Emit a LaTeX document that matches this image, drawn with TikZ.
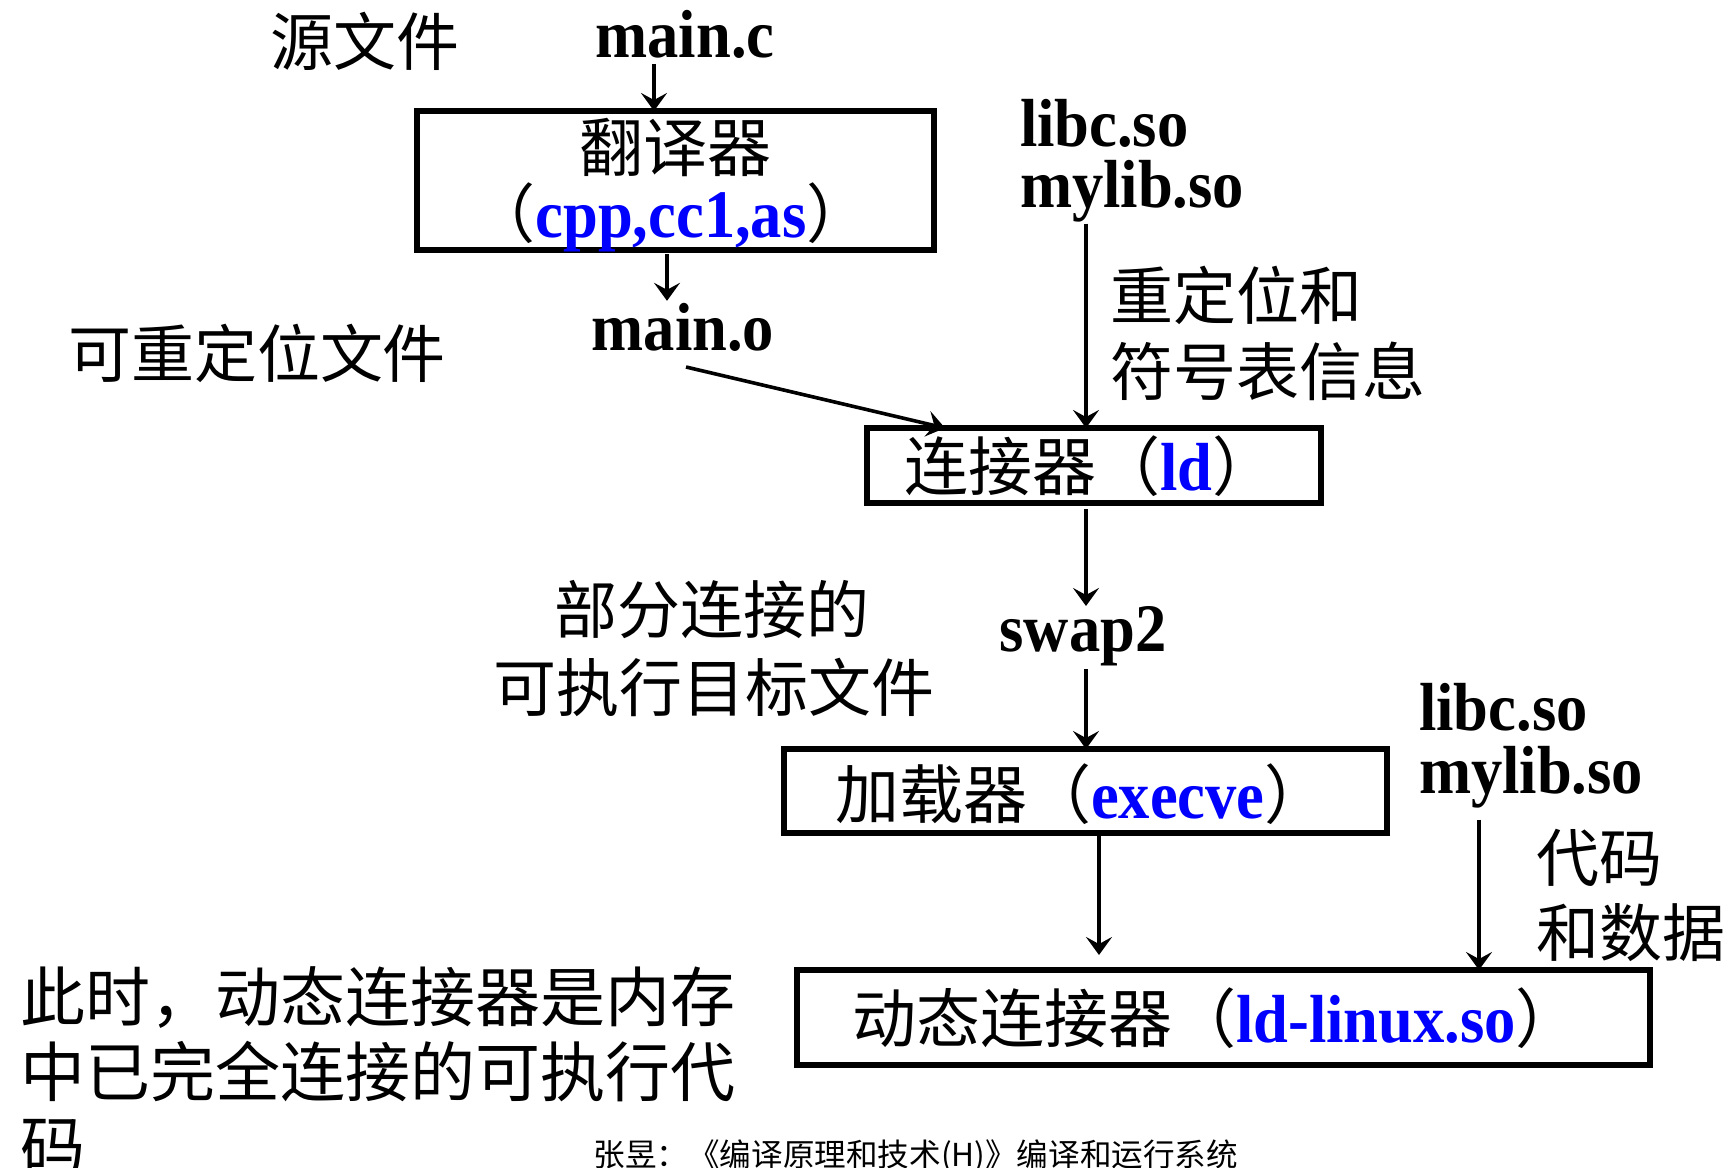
\documentclass[tikz,border=0pt]{standalone}
\usepackage{fontspec}
\setmainfont{Liberation Serif}[FakeStretch=0.92]
\newfontfamily\cjk{Noto Sans CJK SC}
\usetikzlibrary{arrows.meta}
\definecolor{lkblue}{RGB}{0,0,255}
\newcommand\zh[1]{{\cjk\mdseries\fontsize{32}{36}\selectfont #1}}
\newcommand\bl[1]{{\color{lkblue}#1}}
\begin{document}
\begin{tikzpicture}[x=0.5pt,y=-0.5pt,
  lat/.style={font=\fontsize{34}{40}\selectfont\bfseries, inner sep=0pt, outer sep=0pt},
  cj/.style={font=\cjk\fontsize{31.5}{36}\selectfont, inner sep=0pt, outer sep=0pt},
  box/.style={draw, line width=2.7pt, inner sep=0pt, outer sep=0pt},
  arr/.style={-{Stealth[length=9pt,width=13pt,inset=3.5pt]}, line width=1.8pt}]
\useasboundingbox (0,0) rectangle (1729,1167);
\clip (0,0) rectangle (1729,1167);
\fill[white] (0,0) rectangle (1729,1167);

% boxes
\node[box, minimum width=258.5pt, minimum height=69.5pt] (trans) at (675.5,180.5) {};
\node[box, minimum width=227pt, minimum height=37.5pt] (ldbox) at (1094,465.5) {};
\node[box, minimum width=301.5pt, minimum height=42pt] (loader) at (1085.5,791) {};
\node[box, minimum width=426.5pt, minimum height=47.5pt] (dyn) at (1223.5,1017.5) {};

% box texts
\node[cj, font=\cjk\fontsize{32}{36}\selectfont] (transA) at (675,147) {翻译器};
\node[lat, anchor=base] (transB) at (671,237) {\zh{（}\bl{cpp,cc1,as}\zh{）}};
\node[lat, anchor=base west] (ldT) at (904,490) {\zh{连接器（}\bl{ld}\zh{）}};
\node[lat, anchor=base west] (loaderT) at (835,818) {\zh{加载器（}\bl{execve}\zh{）}};
\node[lat, anchor=base west] (dynT) at (852,1042) {\zh{动态连接器（}\bl{ld-linux.so}\zh{）}};

% labels
\node[cj] (src) at (365,41) {源文件};
\node[lat, anchor=base] (mainc) at (685,57) {main.c};
\node[lat, anchor=base] (mo) at (683,350) {main.o};
\node[cj] (reloc) at (257,353) {可重定位文件};
\node[lat, anchor=base west] (libc1) at (1020,146) {libc.so};
\node[lat, anchor=base west] (mylib1) at (1020,207) {mylib.so};
\node[cj, anchor=west] (rel1) at (1110,295) {重定位和};
\node[cj, anchor=west] (rel2) at (1110,371) {符号表信息};
\node[lat, anchor=base] (swap) at (1083,651) {swap2};
\node[cj] (part1) at (712,610) {部分连接的};
\node[cj] (part2) at (714,687) {可执行目标文件};
\node[lat, anchor=base west] (libc2) at (1419,730) {libc.so};
\node[lat, anchor=base west] (mylib2) at (1419,793) {mylib.so};
\node[cj, anchor=west] (code1) at (1536,858) {代码};
\node[cj, anchor=west] (code2) at (1536,933) {和数据};
\node[cj, anchor=base west, font=\cjk\fontsize{32.5}{36}\selectfont] (lt1) at (20,1021) {此时，动态连接器是内存};
\node[cj, anchor=base west, font=\cjk\fontsize{32.5}{36}\selectfont] (lt2) at (20,1096) {中已完全连接的可执行代};
\node[cj, anchor=base west, font=\cjk\fontsize{32.5}{36}\selectfont] (lt3) at (20,1170) {码};
\node[anchor=base west, inner sep=0pt, font=\cjk\fontsize{15.8}{20}\selectfont] (foot) at (593,1166) {张昱：《编译原理和技术(H)》编译和运行系统};

% arrow columns
\coordinate (c1) at (654,0);
\coordinate (c2) at (667,0);
\coordinate (c3) at (945,0);
\coordinate (c4) at (1086,0);
\coordinate (c5) at (1479,0);
\coordinate (c6) at (1099,0);
\coordinate (moOut) at (686,367);

% connectors
\draw[arr, shorten <=3pt] (mainc.south -| c1) -- (trans.north -| c1);
\draw[arr, shorten <=2pt, shorten >=1pt] (trans.south -| c2) -- (mo.north -| c2);
\draw[arr] (moOut) -- (ldbox.north -| c3);
\draw[arr, shorten <=1pt] (mylib1.south -| c4) -- (ldbox.north -| c4);
\draw[arr, shorten <=3pt] (ldbox.south -| c4) -- (swap.north -| c4);
\draw[arr, shorten <=2pt] (swap.south -| c4) -- (loader.north -| c4);
\draw[arr, shorten <=6pt] (mylib2.south -| c5) -- (dyn.north -| c5);
\draw[arr, shorten <=1pt, shorten >=7.5pt] (loader.south -| c6) -- (dyn.north -| c6);
\end{tikzpicture}
\end{document}
